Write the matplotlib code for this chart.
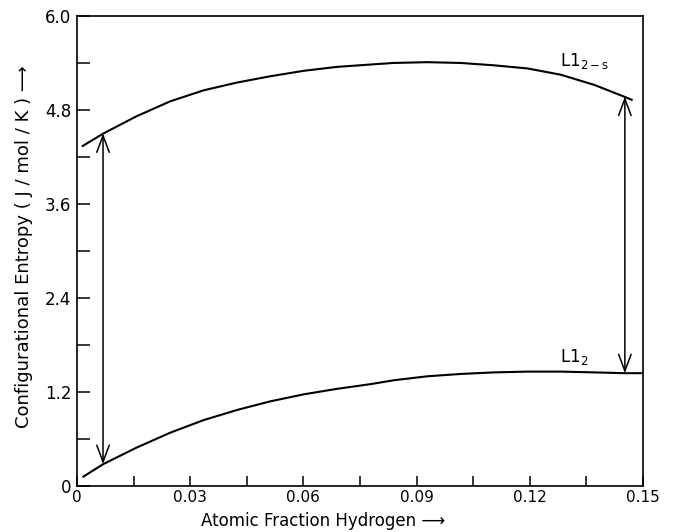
#!/usr/bin/env python3
"""Configurational entropy of L1_2 and L1_2-s phases vs hydrogen fraction."""
import matplotlib

matplotlib.use("Agg")
import matplotlib.pyplot as plt
from matplotlib.patches import FancyArrowPatch
from matplotlib.ticker import MultipleLocator

# values
x_upper = [0.0015, 0.0070, 0.0158, 0.0247, 0.0335, 0.0424, 0.0512, 0.0601, 0.0689, 0.0778,
           0.0839, 0.0928, 0.1017, 0.1105, 0.1194, 0.1282, 0.1371, 0.1450, 0.1470]
s_upper = [4.34, 4.50, 4.72, 4.91, 5.05, 5.15, 5.23, 5.30, 5.35, 5.38,
           5.40, 5.41, 5.40, 5.37, 5.33, 5.25, 5.12, 4.97, 4.93]

x_lower = [0.0017, 0.0070, 0.0158, 0.0247, 0.0335, 0.0424, 0.0512, 0.0601, 0.0689, 0.0778,
           0.0840, 0.0928, 0.1017, 0.1105, 0.1194, 0.1282, 0.1371, 0.1450, 0.1500]
s_lower = [0.12, 0.28, 0.49, 0.68, 0.84, 0.97, 1.08, 1.17, 1.24, 1.30,
           1.35, 1.40, 1.43, 1.45, 1.46, 1.46, 1.45, 1.44, 1.44]

arrow_x = [0.0069, 0.1452]
arrow_top = [4.50, 4.97]
arrow_bottom = [0.28, 1.44]

x_ticks = [0, 0.03, 0.06, 0.09, 0.12, 0.15]
x_ticklabels = ["0", "0.03", "0.06", "0.09", "0.12", "0.15"]
y_ticks = [0, 1.2, 2.4, 3.6, 4.8, 6.0]
y_ticklabels = ["0", "1.2", "2.4", "3.6", "4.8", "6.0"]

plt.rcParams["font.family"] = ["DejaVu Sans"]

fig = plt.figure(figsize=(6.73, 5.32), dpi=100)
ax = fig.add_axes([0.1144, 0.0865, 0.841, 0.8835])

ax.plot(x_upper, s_upper, color="black", linewidth=1.5)
ax.plot(x_lower, s_lower, color="black", linewidth=1.5)

for xa, top, bot in zip(arrow_x, arrow_top, arrow_bottom):
    ax.add_patch(FancyArrowPatch((xa, bot), (xa, top), arrowstyle="<->,head_length=0.8,head_width=0.3",
                                 mutation_scale=15, color="black", linewidth=1.1,
                                 shrinkA=0, shrinkB=0))

ax.text(0.1345, 5.42, r"L1$_{\mathregular{2-s}}$", ha="center", va="center", fontsize=12)
ax.text(0.1317, 1.65, r"L1$_{\mathregular{2}}$", ha="center", va="center", fontsize=12)

ax.set_xlim(0, 0.15)
ax.set_ylim(0, 6.0)
ax.set_xticks(x_ticks)
ax.set_xticklabels(x_ticklabels, fontsize=11)
ax.set_yticks(y_ticks)
ax.set_yticklabels(y_ticklabels, fontsize=12)
ax.xaxis.set_minor_locator(MultipleLocator(0.015))
ax.yaxis.set_minor_locator(MultipleLocator(0.6))
ax.tick_params(which="both", direction="in", top=False, right=False, width=1.1)
ax.tick_params(axis="y", which="both", length=9, pad=4)
ax.tick_params(axis="x", which="both", length=7, pad=3)
for sp in ax.spines.values():
    sp.set_linewidth(1.2)

ax.set_xlabel("Atomic Fraction Hydrogen \u27f6", fontsize=12)
ax.xaxis.set_label_coords(0.435, -0.056)
ax.set_ylabel("Configurational Entropy ( J / mol / K ) \u27f6", fontsize=13)
ax.yaxis.set_label_coords(-0.078, 0.51)

fig.savefig("out.png", dpi=100)
